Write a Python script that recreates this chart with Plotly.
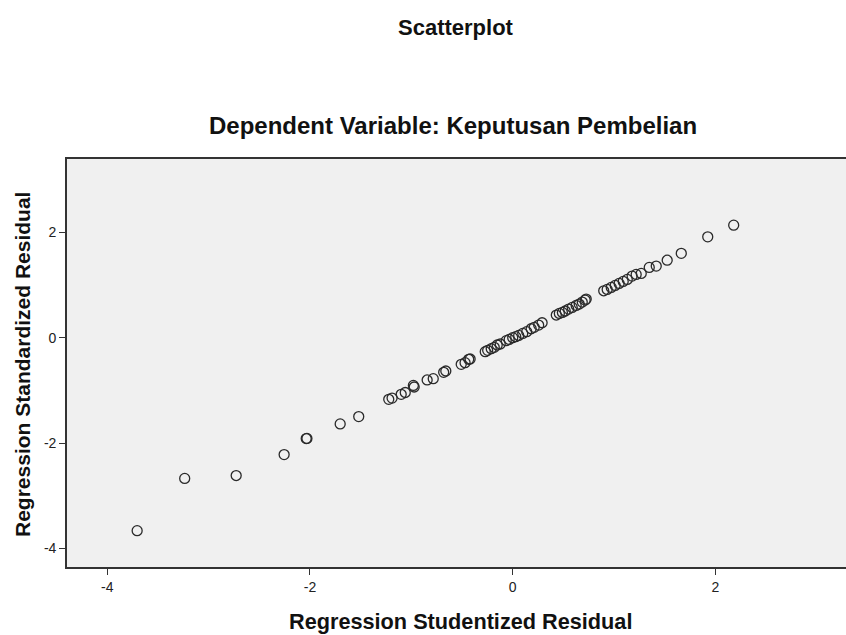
import plotly.graph_objects as go

# Regression Studentized Residual (x) vs Regression Standardized Residual (y)
x_studentized = [
    -3.705, -3.236, -2.728, -2.255, -2.037, -2.030, -1.702, -1.519,
    -1.223, -1.190, -1.100, -1.060, -0.972, -0.980, -0.844, -0.784, -0.681, -0.660,
    -0.508, -0.470, -0.434, -0.420,
    -0.271, -0.247, -0.212, -0.182, -0.153, -0.123, -0.064, -0.035, 0.000, 0.030,
    0.059, 0.099, 0.138, 0.182, 0.212, 0.256, 0.290,
    0.430, 0.460, 0.490, 0.518, 0.552, 0.587, 0.626, 0.656, 0.686, 0.715, 0.725,
    0.898, 0.932, 0.972, 1.011, 1.050, 1.090, 1.130, 1.178, 1.218, 1.268, 1.347,
    1.416, 1.524, 1.663, 1.924, 2.180,
]
y_standardized = [
    -3.660, -2.670, -2.615, -2.217, -1.914, -1.910, -1.636, -1.497,
    -1.169, -1.145, -1.074, -1.040, -0.935, -0.905, -0.802, -0.777, -0.657, -0.632,
    -0.505, -0.474, -0.410, -0.404,
    -0.265, -0.240, -0.209, -0.183, -0.139, -0.120, -0.057, -0.032, 0.000, 0.019,
    0.044, 0.082, 0.114, 0.170, 0.196, 0.240, 0.284,
    0.430, 0.461, 0.480, 0.506, 0.543, 0.575, 0.613, 0.638, 0.676, 0.714, 0.733,
    0.890, 0.916, 0.954, 0.992, 1.030, 1.068, 1.105, 1.169, 1.200, 1.219, 1.333,
    1.358, 1.470, 1.600, 1.914, 2.135,
]
tick_vals = [-4, -2, 0, 2]
tick_text = ["-4", "-2", "0", "2"]

title_text = "Scatterplot"
subtitle_text = "Dependent Variable: Keputusan Pembelian"
x_title = "Regression Studentized Residual"
y_title = "Regression Standardized Residual"

FONT = "Liberation Sans, Arial, sans-serif"

fig = go.Figure(
    go.Scatter(
        x=x_studentized,
        y=y_standardized,
        mode="markers",
        marker=dict(
            symbol="circle-open",
            size=10,
            color="#2a2a2a",
            line=dict(width=1.3, color="#2a2a2a"),
        ),
        hoverinfo="x+y",
    )
)

W, H = 846, 635
L, T, B = 67, 159, 68  # plot area: x 67..846, y 159..567
PW, PH = W - L, H - T - B


def px(xpix):
    return (xpix - L) / PW


def py(ypix):
    return (H - B - ypix) / PH


fig.update_layout(
    width=W,
    height=H,
    margin=dict(l=L, r=0, t=T, b=B),
    paper_bgcolor="white",
    plot_bgcolor="#f0f0f0",
    showlegend=False,
    font=dict(family=FONT, color="#222"),
    xaxis=dict(
        range=[-4.397, 3.288],
        tickvals=tick_vals,
        ticktext=tick_text,
        ticks="outside",
        ticklen=6,
        tickwidth=1.3,
        tickcolor="#333",
        showgrid=False,
        zeroline=False,
        showline=True,
        linecolor="#333",
        linewidth=1.6,
        mirror=True,
        tickfont=dict(size=14, color="#222"),
    ),
    yaxis=dict(
        range=[-4.35, 3.39],
        tickvals=tick_vals,
        ticktext=tick_text,
        ticks="outside",
        ticklen=6,
        tickwidth=1.3,
        tickcolor="#333",
        showgrid=False,
        zeroline=False,
        showline=True,
        linecolor="#333",
        linewidth=1.6,
        mirror=False,
        tickfont=dict(size=14, color="#222"),
    ),
    annotations=[
        dict(text=f"<b>{title_text}</b>", xref="paper", yref="paper",
             x=px(456), y=py(27), xanchor="center", yanchor="middle",
             showarrow=False, font=dict(size=22, color="#111")),
        dict(text=f"<b>{subtitle_text}</b>", xref="paper", yref="paper",
             x=px(453), y=py(125), xanchor="center", yanchor="middle",
             showarrow=False, font=dict(size=24, color="#111")),
        dict(text=f"<b>{x_title}</b>", xref="paper", yref="paper",
             x=px(461), y=py(621), xanchor="center", yanchor="middle",
             showarrow=False, font=dict(size=21.7, color="#111")),
        dict(text=f"<b>{y_title}</b>", xref="paper", yref="paper",
             x=px(22), y=py(365), xanchor="center", yanchor="middle",
             textangle=-90, showarrow=False, font=dict(size=21, color="#111")),
    ],
)

fig.write_html(
    "out.html",
    config={"displayModeBar": False},
    post_script="document.body.style.margin='0';document.body.style.overflow='hidden';",
)
